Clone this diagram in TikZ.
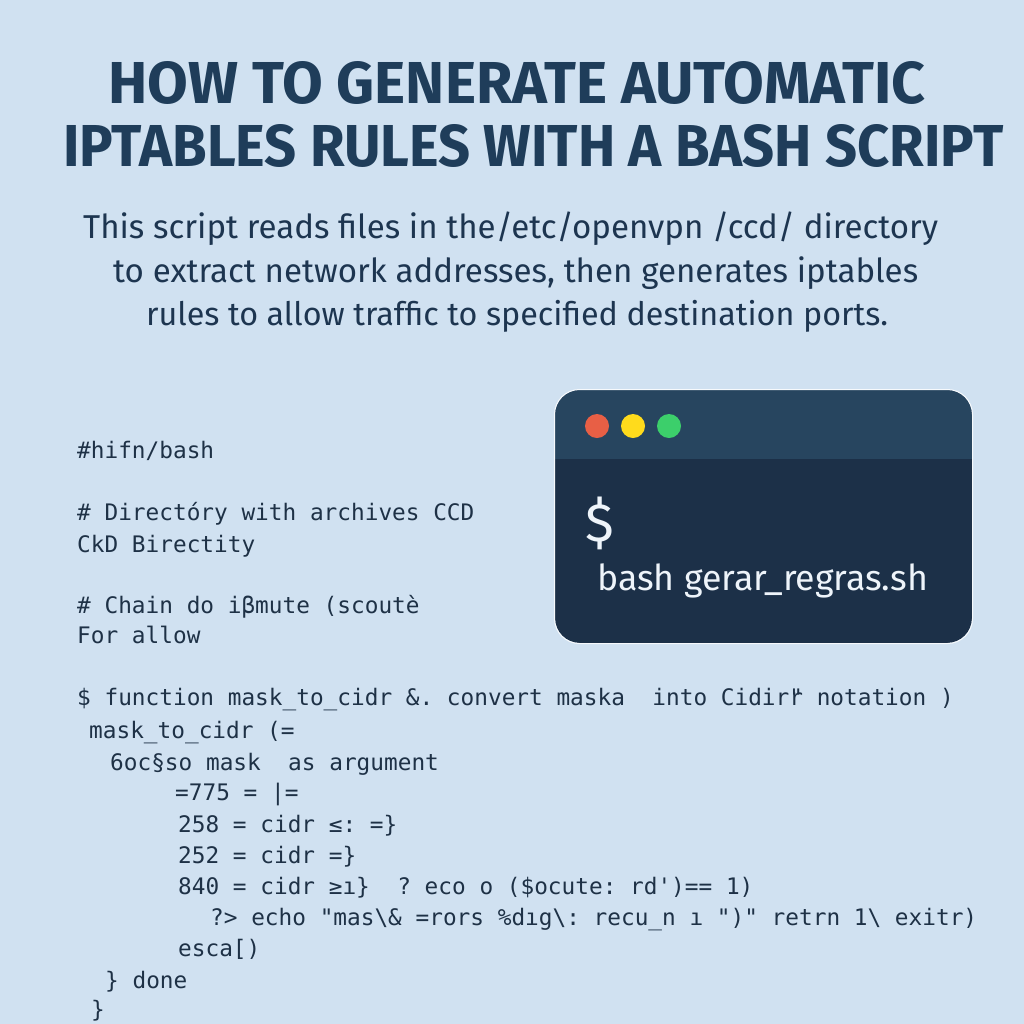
\documentclass[tikz,border=0pt]{standalone}
\usepackage{fontspec}
\setmainfont{Fira Sans}
\setmonofont{DejaVu Sans Mono}
\usepackage{graphicx}
\definecolor{bgc}{HTML}{D0E1F1}
\definecolor{titlec}{HTML}{1F3D5A}
\definecolor{subc}{HTML}{1D3550}
\definecolor{codec}{HTML}{1E3146}
\definecolor{termhead}{HTML}{27455F}
\definecolor{termbody}{HTML}{1C3048}
\definecolor{termtext}{HTML}{EEF4FA}
\definecolor{dotred}{HTML}{E85F45}
\definecolor{dotyellow}{HTML}{FFDB1C}
\definecolor{dotgreen}{HTML}{3CCF6B}
\begin{document}
\begin{tikzpicture}[x=1bp,y=-1bp,
  ttl/.style={anchor=south west,inner sep=0,text=titlec},
  sub/.style={anchor=base west,inner sep=0,text=subc},
  code/.style={anchor=base west,inner sep=0,text=codec,font=\ttfamily\fontsize{22.75bp}{26bp}\selectfont},
  dot/.style={circle,inner sep=0,minimum size=24bp}]
\fill[bgc] (0,0) rectangle (1024,1024);
\useasboundingbox (0,0) rectangle (1024,1024);
% title
\node[ttl] (t1) at (108,105) {\resizebox{817bp}{42bp}{\bfseries HOW TO GENERATE AUTOMATIC}};
\node[ttl] (t2) at (63,168) {\resizebox{940bp}{42bp}{\bfseries IPTABLES RULES WITH A BASH SCRIPT}};
% subtitle
\node[sub] (s1) at (83,238) {\resizebox{855bp}{!}{\fontsize{32bp}{36bp}\selectfont This script reads files in the/etc/openvpn /ccd/ directory}};
\node[sub] (s2) at (113,282) {\resizebox{805bp}{!}{\fontsize{32bp}{36bp}\selectfont to extract network addresses, then generates iptables}};
\node[sub] (s3) at (146,325) {\resizebox{742bp}{!}{\fontsize{32bp}{36bp}\selectfont rules to allow traffic to specified destination ports.}};
% terminal
\fill[termbody] [rounded corners=25bp] (555,390) rectangle (972,643);
\begin{scope}
\clip[rounded corners=25bp] (555,390) rectangle (972,643);
\fill[termhead] (555,390) rectangle (972,459);
\end{scope}
\draw[white!80!bgc,line width=1bp,rounded corners=25bp] (554.5,389.5) rectangle (972.5,643.5);
\node[dot,fill=dotred] (dr) at (597,426) {};
\node[dot,fill=dotyellow] (dy) at (633,426) {};
\node[dot,fill=dotgreen] (dg) at (669,426) {};
\node[anchor=base west,inner sep=0,text=termtext] (dollar) at (585,541) {\fontsize{54bp}{60bp}\selectfont\$};
\node[anchor=base west,inner sep=0,text=termtext] (cmd) at (597,590) {\resizebox{331bp}{!}{\fontsize{32bp}{36bp}\selectfont bash gerar\_regras.sh}};
% code
\node[code] (c1) at (77,458) {\#hifn/bash};
\node[code] (c2) at (77,520) {\# Directóry with archives CCD};
\node[code] (c3) at (77,552) {CkD Birectity};
\node[code] (c4) at (77,613) {\# Chain do iβmute (scoutè};
\node[code] (c5) at (77,643) {For allow};
\node[code] (c6) at (77,705) {\$ function mask\_to\_cidr \&. convert maska\ \ into Cidir\rlap{"}r notation )};
\node[code] (c7) at (89,738) {mask\_to\_cidr (=};
\node[code] (c8) at (110,770) {6oc§so mask\ \ as argument};
\node[code] (c9) at (175,800) {=775 = |=};
\node[code] (c10) at (178,832) {258 = cidr ≤: =\}};
\node[code] (c11) at (178,863) {252 = cidr =\}};
\node[code] (c12) at (178,894) {840 = cidr ≥ı\}\ \ ? eco o (\$ocute: rd')== 1)};
\node[code] (c13) at (210,925) {?> echo "mas\textbackslash\& =rors \%dıg\textbackslash: recu\_n ı ")" retrn 1\textbackslash\ exitr)};
\node[code] (c14) at (178,956) {esca[)};
\node[code] (c15) at (105,988) {\} done};
\node[code] (c16) at (91,1017) {\}};
\end{tikzpicture}
\end{document}
